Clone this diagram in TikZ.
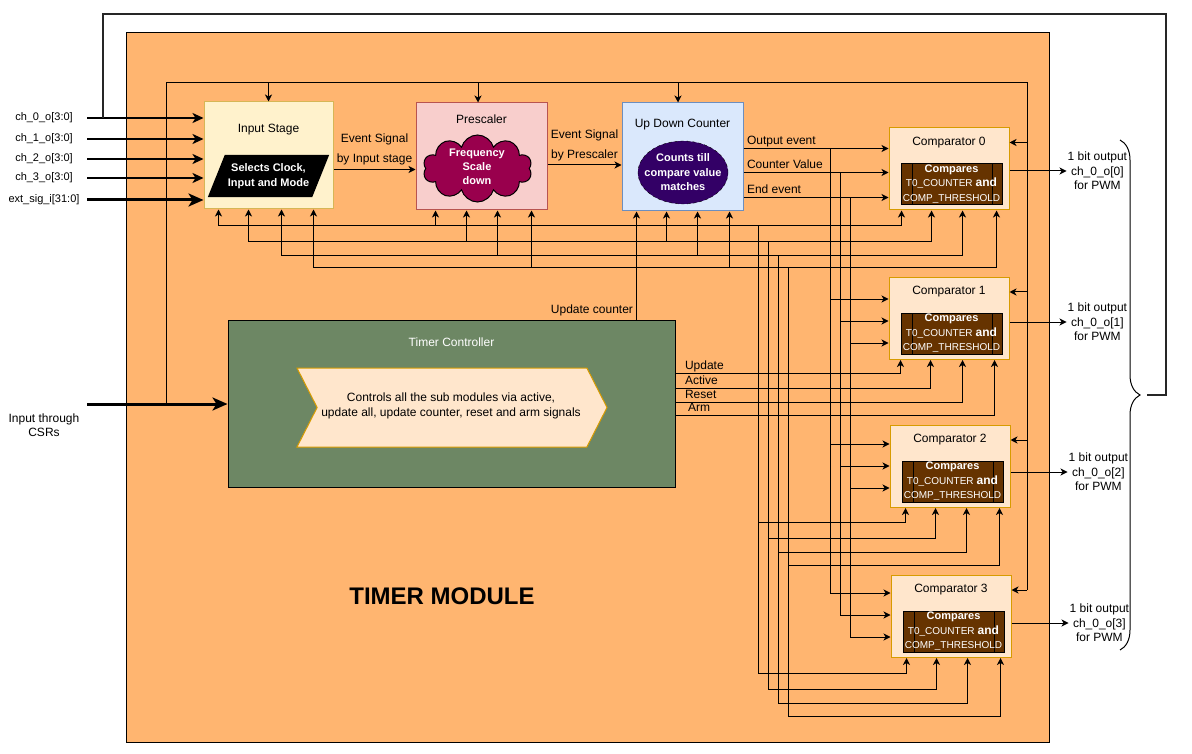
\documentclass[tikz,border=0pt]{standalone}
\usepackage{fontspec}
\setmainfont{Liberation Sans}
\usetikzlibrary{shapes,arrows.meta,positioning,calc,decorations.pathreplacing}

\definecolor{modfill}{HTML}{FFB570}
\definecolor{isfill}{HTML}{FFF2CC}
\definecolor{isline}{HTML}{D6B656}
\definecolor{prefill}{HTML}{F8CECC}
\definecolor{preline}{HTML}{B85450}
\definecolor{cntfill}{HTML}{DAE8FC}
\definecolor{cntline}{HTML}{6C8EBF}
\definecolor{cmpfill}{HTML}{FFE6CC}
\definecolor{cmpline}{HTML}{D79B00}
\definecolor{ctrlfill}{HTML}{6D8764}
\definecolor{corefill}{HTML}{663300}
\definecolor{cloudfill}{HTML}{99004D}
\definecolor{ovalfill}{HTML}{330066}

\newcommand{\cmpnote}{\textbf{Compares}\\{\fontsize{10}{14.5}\selectfont T0\_COUNTER} {\fontsize{12}{14.5}\selectfont\bfseries and}\\{\fontsize{10}{14.5}\selectfont COMP\_THRESHOLD}}

\tikzset{
  wire/.style={line width=1pt},
  sig/.style={wire, -{Stealth[length=7pt,width=7pt,inset=2pt]}},
  chbus/.style={line width=2pt, -{Stealth[length=11pt,width=10pt,inset=3pt]}},
  widebus/.style={line width=3pt, -{Stealth[length=15pt,width=13pt,inset=4pt]}},
  blk/.style={draw, line width=1pt, inner sep=0pt},
  ttl/.style={font=\fontsize{12}{14}\selectfont, inner sep=0pt},
  lbl/.style={font=\fontsize{12}{14}\selectfont, inner sep=1pt, text height=9pt, text depth=2.5pt},
  evlbl/.style={font=\fontsize{12}{20}\selectfont, align=center, inner sep=1pt},
  inlbl/.style={font=\fontsize{11}{13}\selectfont, minimum width=86pt, inner sep=0pt},
  outlbl/.style={font=\fontsize{12}{14.5}\selectfont, align=center, inner sep=1pt},
  boldtxt/.style={font=\fontsize{11}{14.5}\selectfont\bfseries, text=white, align=center, inner sep=0pt},
  cmp/.style={blk, draw=cmpline, fill=cmpfill, minimum width=120pt, minimum height=82pt},
  cmpbox/.style={draw=black, line width=1pt, fill=corefill, minimum width=101pt, minimum height=41pt,
    inner sep=0pt, text=white, align=center, font=\fontsize{11}{14.5}\selectfont,
    path picture={\draw[black, line width=1pt]
      ([xshift=11pt]path picture bounding box.north west) -- ([xshift=11pt]path picture bounding box.south west)
      ([xshift=-10pt]path picture bounding box.north east) -- ([xshift=-10pt]path picture bounding box.south east);}},
}

\begin{document}
\begin{tikzpicture}[x=1pt, y=-1pt]
\useasboundingbox (0,0) rectangle (1192,754);

% Timer module
\node[blk, fill=modfill, minimum width=923pt, minimum height=709pt] (tm) at (587.5,387.5) {};
\node[font=\fontsize{24}{28}\selectfont\bfseries] (tmt) at (442,596.5) {TIMER MODULE};

% Input stage
\node[blk, draw=isline, fill=isfill, minimum width=129pt, minimum height=107pt] (ist) at (268.5,155.5) {};
\node[ttl] (istt) at ([yshift=-28]ist.north) {Input Stage};
\node[minimum width=104pt, minimum height=42pt, inner sep=0pt] (sel) at (268.5,176) {};
\fill[black] ([xshift=-8.5]sel.south west) -- ([xshift=8.5]sel.north west)
  -- ([xshift=8.5]sel.north east) -- ([xshift=-8.5]sel.south east) -- cycle;
\node[boldtxt, font=\fontsize{11}{15}\selectfont\bfseries] (selt) at (sel) {Selects Clock,\\Input and Mode};

% Prescaler
\node[blk, draw=preline, fill=prefill, minimum width=131pt, minimum height=107pt] (pre) at (481.5,156.5) {};
\node[ttl] (pret) at ([yshift=-17]pre.north) {Prescaler};
\node[cloud, cloud puffs=10, cloud ignores aspect, draw=black, line width=1pt, fill=cloudfill,
  minimum width=109pt, minimum height=67pt, inner sep=0pt] (frq) at (477.5,168.5) {};
\node[boldtxt, font=\fontsize{11}{14}\selectfont\bfseries] (frqt) at (477,167) {Frequency\\Scale\\down};

% Up down counter
\node[blk, draw=cntline, fill=cntfill, minimum width=121pt, minimum height=108pt] (cnt) at (682.5,157) {};
\node[ttl] (cntt) at ([yshift=-22]cnt.north) {Up Down Counter};
\node[ellipse, draw=black, dashed, fill=ovalfill, minimum width=90pt, minimum height=63pt, inner sep=0pt] (ovl) at (683,172.5) {};
\node[boldtxt] (ovlt) at (ovl) {Counts till\\compare value\\matches};

% Timer controller
\node[blk, fill=ctrlfill, minimum width=447pt, minimum height=167pt] (ctrl) at (451.5,403.5) {};
\node[ttl, text=white] (ctrlt) at ([yshift=-23]ctrl.north) {Timer Controller};
\node[signal, signal to=east, signal from=west, signal pointer angle=126, draw=cmpline, fill=cmpfill,
  line width=1pt, minimum width=310pt, minimum height=79pt, inner sep=0pt] (ctrlin) at (452,407.5) {};
\node[font=\fontsize{12}{15}\selectfont, align=center, inner sep=0pt] (ctrlint) at (451,405.5)
  {Controls all the sub modules via active,\\update all, update counter, reset and arm signals};

% Comparators
\node[cmp] (c0) at (949,169) {};
\node[ttl] (c0t) at ([yshift=-15]c0.north) {Comparator 0};
\node[cmpbox] (c0in) at ([xshift=2.5,yshift=-56.5]c0.north) {\cmpnote};
\node[cmp] (c1) at (949,318.5) {};
\node[ttl] (c1t) at ([yshift=-15]c1.north) {Comparator 1};
\node[cmpbox] (c1in) at ([xshift=2.5,yshift=-56.5]c1.north) {\cmpnote};
\node[cmp] (c2) at (950,466.5) {};
\node[ttl] (c2t) at ([yshift=-15]c2.north) {Comparator 2};
\node[cmpbox] (c2in) at ([xshift=2.5,yshift=-56.5]c2.north) {\cmpnote};
\node[cmp] (c3) at (951,616.5) {};
\node[ttl] (c3t) at ([yshift=-15]c3.north) {Comparator 3};
\node[cmpbox] (c3in) at ([xshift=2.5,yshift=-56.5]c3.north) {\cmpnote};

% PWM outputs
\node[outlbl, anchor=west] (o0) at ([xshift=57,yshift=-2]c0.east) {1 bit output\\ch\_0\_o[0]\\for PWM};
\node[outlbl, anchor=west] (o1) at ([xshift=57,yshift=-3.5]c1.east) {1 bit output\\ch\_0\_o[1]\\for PWM};
\node[outlbl, anchor=west] (o2) at ([xshift=57,yshift=-5.5]c2.east) {1 bit output\\ch\_0\_o[2]\\for PWM};
\node[outlbl, anchor=west] (o3) at ([xshift=57,yshift=-6.5]c3.east) {1 bit output\\ch\_0\_o[3]\\for PWM};
\draw[sig] (o0.west -| c0.east) -- (o0.west);
\draw[sig] (o1.west -| c1.east) -- (o1.west);
\draw[sig] (o2.west -| c2.east) -- (o2.west);
\draw[sig] (o3.west -| c3.east) -- (o3.west);

% Inputs
\node[inlbl] (ch0) at (44,118) {ch\_0\_o[3:0]};
\node[inlbl] (ch1) at (44,139) {ch\_1\_o[3:0]};
\node[inlbl] (ch2) at (44,159) {ch\_2\_o[3:0]};
\node[inlbl] (ch3) at (44,178) {ch\_3\_o[3:0]};
\node[inlbl] (ext) at (44,200) {ext\_sig\_i[31:0]};
\draw[chbus] (ch0.east) -- (ch0.east -| ist.west);
\draw[chbus] (ch1.east) -- (ch1.east -| ist.west);
\draw[chbus] (ch2.east) -- (ch2.east -| ist.west);
\draw[chbus] (ch3.east) -- (ch3.east -| ist.west);
\draw[widebus] (ext.east) -- (ext.east -| ist.west);

\node[font=\fontsize{12}{14}\selectfont, align=center, inner sep=0pt] (csr) at (44,425) {Input through\\CSRs};
\coordinate (csrin) at (87,404);
\coordinate (csrtap) at (166,404);
\draw[widebus] (csrin) -- (csrin -| ctrl.west);

% PWM feedback loop
\coordinate (looptap) at (103,118);
\coordinate (brtip) at (1147,395);
\draw[line width=2pt, black!85] (looptap) |- (1166,14) |- (brtip);
\draw[decorate, decoration={brace, amplitude=20pt}, line width=1pt] (1120,140) -- (1120,650);

% CSR line over the top
\coordinate (fbr) at (1027,83);
\draw[wire] (csrtap) |- (fbr) -- (fbr |- c3t);
\draw[sig] (fbr -| ist.north) -- (ist.north);
\draw[sig] ([xshift=-3.5]pre.north |- fbr) -- ([xshift=-3.5]pre.north);
\draw[sig] ([xshift=-4.5]cnt.north |- fbr) -- ([xshift=-4.5]cnt.north);
\draw[sig] (fbr |- c0t) -- (c0t -| c0.east);
\draw[sig] (fbr |- c1t) -- (c1t -| c1.east);
\draw[sig] (fbr |- c2t) -- (c2t -| c2.east);
\draw[sig] (fbr |- c3t) -- (c3t -| c3.east);

% Event signals
\draw[sig] ([yshift=-14]ist.east) -- node[evlbl, above=3pt] (evis) {Event Signal\\by Input stage} ([yshift=-14]ist.east -| pre.west);
\draw[sig] ([yshift=-8.5]pre.east) -- node[evlbl, above=3pt] (evps) {Event Signal\\by Prescaler} ([yshift=-8.5]pre.east -| cnt.west);

% Counter outputs
\draw[sig] ([yshift=-46]cnt.north east) -- node[pos=0, lbl, anchor=south west, xshift=2] {Output event} ([yshift=-46]cnt.north east -| c0.west);
\draw[sig] ([yshift=-70]cnt.north east) -- node[pos=0, lbl, anchor=south west, xshift=2] {Counter Value} ([yshift=-70]cnt.north east -| c0.west);
\draw[sig] ([yshift=-95]cnt.north east) -- node[pos=0, lbl, anchor=south west, xshift=2] {End event} ([yshift=-95]cnt.north east -| c0.west);
\coordinate (eva) at (830,149);
\coordinate (evb) at (840,173);
\coordinate (evc) at (850,198);
\draw[wire] (eva) -- ([yshift=-18]c3.north west -| eva);
\draw[wire] (evb) -- ([yshift=-40]c3.north west -| evb);
\draw[wire] (evc) -- ([yshift=-62]c3.north west -| evc);
\draw[sig] ([yshift=-22]c1.north west -| eva) -- ([yshift=-22]c1.north west);
\draw[sig] ([yshift=-44]c1.north west -| evb) -- ([yshift=-44]c1.north west);
\draw[sig] ([yshift=-66]c1.north west -| evc) -- ([yshift=-66]c1.north west);
\draw[sig] ([yshift=-19]c2.north west -| eva) -- ([yshift=-19]c2.north west);
\draw[sig] ([yshift=-41]c2.north west -| evb) -- ([yshift=-41]c2.north west);
\draw[sig] ([yshift=-63]c2.north west -| evc) -- ([yshift=-63]c2.north west);
\draw[sig] ([yshift=-18]c3.north west -| eva) -- ([yshift=-18]c3.north west);
\draw[sig] ([yshift=-40]c3.north west -| evb) -- ([yshift=-40]c3.north west);
\draw[sig] ([yshift=-62]c3.north west -| evc) -- ([yshift=-62]c3.north west);

% Update counter
\draw[sig] ([xshift=15]cnt.south west |- ctrl.north) -- node[pos=0, lbl, anchor=south east, inner sep=3pt] {Update counter} ([xshift=15]cnt.south west);

% Controller signals to comparator 1
\draw[sig] ([yshift=-54]ctrl.north east) -| node[pos=0, lbl, anchor=south west, xshift=8] {Update} ([xshift=12]c1.south west);
\draw[sig] ([yshift=-69]ctrl.north east) -| node[pos=0, lbl, anchor=south west, xshift=8] {Active} ([xshift=42]c1.south west);
\draw[sig] ([yshift=-83]ctrl.north east) -| node[pos=0, lbl, anchor=south west, xshift=8] {Reset} ([xshift=74]c1.south west);
\draw[sig] ([yshift=-96]ctrl.north east) -| node[pos=0, lbl, anchor=south west, xshift=11] {Arm} ([xshift=106]c1.south west);

% Control bus
\coordinate (ra) at (758,226);
\coordinate (rb) at (768,242);
\coordinate (rc) at (778,256);
\coordinate (rd) at (788,268);
\draw[sig] ([xshift=15]ist.south west |- ra) -| ([xshift=13]c0.south west);
\draw[sig] ([xshift=45]ist.south west |- rb) -| ([xshift=43]c0.south west);
\draw[sig] ([xshift=78]ist.south west |- rc) -| ([xshift=74]c0.south west);
\draw[sig] ([xshift=110]ist.south west |- rd) -| ([xshift=108]c0.south west);
\draw[sig] ([xshift=15]ist.south west |- ra) -- ([xshift=15]ist.south west);
\draw[sig] ([xshift=45]ist.south west |- rb) -- ([xshift=45]ist.south west);
\draw[sig] ([xshift=78]ist.south west |- rc) -- ([xshift=78]ist.south west);
\draw[sig] ([xshift=110]ist.south west |- rd) -- ([xshift=110]ist.south west);
\draw[sig] ([xshift=20]pre.south west |- ra) -- ([xshift=20]pre.south west);
\draw[sig] ([xshift=51]pre.south west |- rb) -- ([xshift=51]pre.south west);
\draw[sig] ([xshift=82]pre.south west |- rc) -- ([xshift=82]pre.south west);
\draw[sig] ([xshift=116]pre.south west |- rd) -- ([xshift=116]pre.south west);
\draw[sig] ([xshift=45]cnt.south west |- rb) -- ([xshift=45]cnt.south west);
\draw[sig] ([xshift=76]cnt.south west |- rc) -- ([xshift=76]cnt.south west);
\draw[sig] ([xshift=108]cnt.south west |- rd) -- ([xshift=108]cnt.south west);

% Bus down to comparators 2 and 3
\draw[sig] (ra) |- ([xshift=16,yshift=-15]c3.south west) -- ([xshift=16]c3.south west);
\draw[sig] (rb) |- ([xshift=46,yshift=-31]c3.south west) -- ([xshift=46]c3.south west);
\draw[sig] (rc) |- ([xshift=77,yshift=-45]c3.south west) -- ([xshift=77]c3.south west);
\draw[sig] (rd) |- ([xshift=110,yshift=-58]c3.south west) -- ([xshift=110]c3.south west);
\draw[sig] ([yshift=-14]c2.south -| ra) -| ([xshift=16]c2.south west);
\draw[sig] ([yshift=-30]c2.south -| rb) -| ([xshift=46]c2.south west);
\draw[sig] ([yshift=-44]c2.south -| rc) -| ([xshift=77]c2.south west);
\draw[sig] ([yshift=-57]c2.south -| rd) -| ([xshift=110]c2.south west);
\end{tikzpicture}
\end{document}
